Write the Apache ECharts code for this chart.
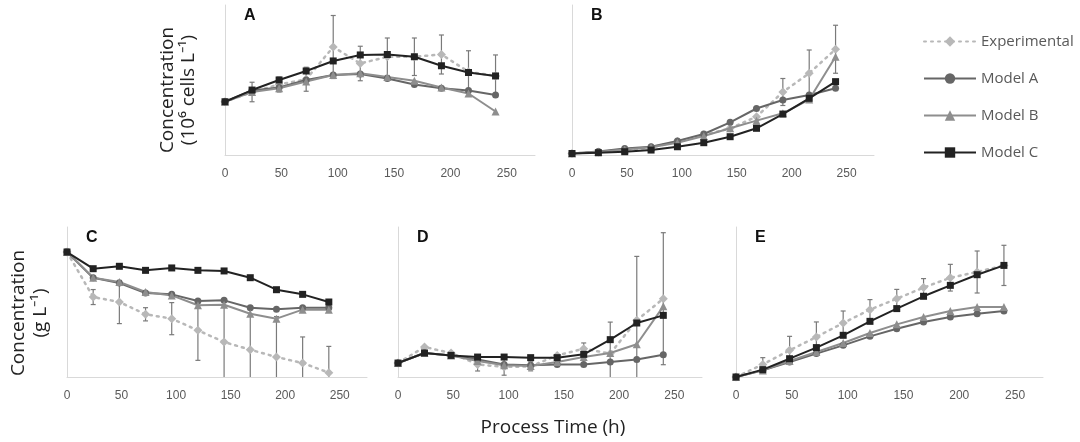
<!DOCTYPE html>
<html>
<head>
<meta charset="utf-8">
<script src="https://cdn.jsdelivr.net/npm/echarts@6/dist/echarts.min.js"></script>
<style>html,body{margin:0;padding:0;background:#fff}#chart{width:1080px;height:442px}</style>
</head>
<body>
<div id="chart"></div>
<script>
// sampling times (h)
var times = [0, 24, 48, 72, 96, 120, 144, 168, 192, 216, 240]
var xTicks = [0, 50, 100, 150, 200, 250]

// panel A (relative units)
var expA = [35.5, 42, 47, 50.5, 72, 61, 65.5, 65.5, 67, 55.5, 52.7]
var errA = [0, 6.5, 5, 8, 21, 11.5, 12.5, 12.5, 13, 14, 14]
var modelA_A = [35.5, 43, 45, 50, 53.3, 54, 51, 47, 44.5, 43, 40]
var modelB_A = [35.5, 42, 44.5, 49, 53.3, 54.5, 52, 49.5, 45, 41, 29]
var modelC_A = [35.5, 43.3, 50, 56, 62.7, 66.7, 67, 65.5, 59.5, 55, 52.7]

// panel B
var expB = [1, 2, 3.3, 5, 9, 13.3, 17.8, 25.5, 42, 54.5, 70.5]
var errB = [0, 0, 0, 0, 0, 0, 0, 0, 9, 15.5, 16]
var modelA_B = [1, 2.3, 4.4, 5.5, 9.3, 14, 21.8, 31, 36.7, 40, 44.5]
var modelB_B = [1, 2, 3.7, 5.2, 8.2, 12.7, 17.8, 22.9, 27.8, 37, 65.5]
var modelC_B = [1, 1.5, 2.2, 3.3, 5.5, 8.2, 12.2, 17.8, 27.3, 37.8, 48.9]

// panel C
var expC = [83.3, 53.3, 50, 41.8, 38.9, 31.1, 23.3, 18.2, 13.3, 9.3, 2.9]
var errC = [2, 5, 14.4, 4.4, 10.7, 20, 27.7, 29, 27, 17.4, 17.5]
var modelA_C = [83.3, 66.2, 62.7, 56, 55.1, 50.7, 51.1, 46.2, 45.1, 46.2, 46.2]
var modelB_C = [83.3, 66.2, 63.3, 56.7, 54.4, 47.8, 48.2, 42.2, 38.9, 44.9, 44.9]
var modelC_C = [83.3, 72.2, 73.8, 71.1, 72.7, 71.1, 70.7, 66.2, 58.2, 55.1, 50]

// panel D
var expD = [9.3, 20, 16, 8.4, 6.7, 7.1, 14.4, 18.9, 15.6, 37.8, 52.2]
var errD = [0, 0, 0, 4.4, 5.5, 3, 0, 3.8, 21, 42.6, 44]
var modelA_D = [9.3, 16, 14.4, 11.6, 8.4, 7.8, 8.4, 8.4, 10, 11.6, 14.9]
var modelB_D = [9.3, 16, 14.4, 10.7, 7.8, 7.3, 10, 13.3, 16, 21.8, 47.1]
var modelC_D = [9.3, 16, 14.4, 13.3, 13.3, 12.9, 12.9, 15.1, 24.9, 36, 41.1]

// panel E
var expE = [0, 8.4, 17.8, 26.7, 36, 44.9, 52.2, 59.6, 66.2, 70, 74.4]
var errE = [0, 4.5, 9.3, 10, 8, 6.7, 6.2, 6, 8.9, 14, 13.4]
var modelA_E = [0, 4.4, 10, 15.6, 21.1, 27.1, 32.2, 36.7, 40, 42.2, 44]
var modelB_E = [0, 4.4, 10.7, 16.7, 22.7, 29.3, 35.1, 40, 44, 46.7, 46.7]
var modelC_E = [0, 4.9, 12.2, 19.6, 27.8, 37.1, 45.6, 53.8, 61.1, 68.2, 74.4]

var panels = [
  { letter: 'A', left: 225, top: 5, width: 310, height: 150, exp: expA, err: errA, a: modelA_A, b: modelB_A, c: modelC_A },
  { letter: 'B', left: 572, top: 5, width: 302, height: 150, exp: expB, err: errB, a: modelA_B, b: modelB_B, c: modelC_B },
  { letter: 'C', left: 67, top: 227, width: 300, height: 150, exp: expC, err: errC, a: modelA_C, b: modelB_C, c: modelC_C },
  { letter: 'D', left: 398, top: 227, width: 304, height: 150, exp: expD, err: errD, a: modelA_D, b: modelB_D, c: modelC_D },
  { letter: 'E', left: 736, top: 227, width: 307, height: 150, exp: expE, err: errE, a: modelA_E, b: modelB_E, c: modelC_E },
]

var colExp = '#b8b8b8', colA = '#666666', colB = '#8e8e8e', colC = '#222222', colErr = '#7a7a7a'

function pairs(arr) {
  return arr.map(function (v, i) { return [times[i], v] })
}

var myChart = echarts.init(document.getElementById('chart'))
var grids = [], xAxes = [], yAxes = [], series = [], graphics = []

panels.forEach(function (p, k) {
  grids.push({ left: p.left, top: p.top, width: p.width, height: p.height })
  xAxes.push({
    gridIndex: k, type: 'value', min: 0, max: 275, interval: 50,
    axisLine: { show: true, lineStyle: { color: '#d9d9d9' } },
    axisTick: { show: false }, splitLine: { show: false },
    axisLabel: {
      color: '#595959', fontSize: 12, fontFamily: 'Liberation Sans', margin: 13,
      formatter: function (v) { return xTicks.indexOf(v) >= 0 ? v : '' },
    },
  })
  yAxes.push({
    gridIndex: k, type: 'value', min: 0, max: 100,
    axisLine: { show: true, lineStyle: { color: '#d9d9d9' } },
    axisTick: { show: false }, axisLabel: { show: false }, splitLine: { show: false },
  })
  // error bars for the experimental data (cut at the x axis)
  series.push({
    type: 'custom', xAxisIndex: k, yAxisIndex: k, silent: true, z: 1,
    data: p.exp.map(function (v, i) { return [times[i], Math.max(0, v - p.err[i]), v + p.err[i]] }),
    renderItem: function (params, api) {
      var lo = api.coord([api.value(0), api.value(1)])
      var hi = api.coord([api.value(0), api.value(2)])
      var st = { stroke: colErr, lineWidth: 1.2 }
      var kids = [
        { type: 'line', shape: { x1: lo[0], y1: lo[1], x2: hi[0], y2: hi[1] }, style: st },
        { type: 'line', shape: { x1: hi[0] - 2.5, y1: hi[1], x2: hi[0] + 2.5, y2: hi[1] }, style: st },
      ]
      if (api.value(1) > 0) {
        kids.push({ type: 'line', shape: { x1: lo[0] - 2.5, y1: lo[1], x2: lo[0] + 2.5, y2: lo[1] }, style: st })
      }
      return { type: 'group', children: kids }
    },
  })
  series.push({
    name: 'Experimental', type: 'line', xAxisIndex: k, yAxisIndex: k, data: pairs(p.exp), z: 2,
    symbol: 'diamond', symbolSize: 9, itemStyle: { color: colExp },
    lineStyle: { color: colExp, width: 2.5, type: [2, 5], cap: 'round' },
  })
  series.push({
    name: 'Model A', type: 'line', xAxisIndex: k, yAxisIndex: k, data: pairs(p.a), z: 3,
    symbol: 'circle', symbolSize: 7, itemStyle: { color: colA }, lineStyle: { color: colA, width: 2 },
  })
  series.push({
    name: 'Model B', type: 'line', xAxisIndex: k, yAxisIndex: k, data: pairs(p.b), z: 3,
    symbol: 'triangle', symbolSize: 8, itemStyle: { color: colB }, lineStyle: { color: colB, width: 2 },
  })
  series.push({
    name: 'Model C', type: 'line', xAxisIndex: k, yAxisIndex: k, data: pairs(p.c), z: 4,
    symbol: 'rect', symbolSize: 7, itemStyle: { color: colC }, lineStyle: { color: colC, width: 2 },
  })
  graphics.push({
    type: 'text', left: p.left + 19, top: p.top + 3,
    style: { text: p.letter, fontSize: 16, fontWeight: 'bold', fill: '#111', fontFamily: 'Liberation Sans' },
  })
})

var titleFont = { fontSize: 19, fill: '#222', fontFamily: 'Open Sans' }
graphics.push(
  { type: 'text', x: 168, y: 90, rotation: Math.PI / 2, style: Object.assign({ text: 'Concentration', align: 'center', verticalAlign: 'middle' }, titleFont) },
  { type: 'text', x: 189, y: 90, rotation: Math.PI / 2, style: Object.assign({ text: '(10\u2076 cells L\u207B\u00B9)', align: 'center', verticalAlign: 'middle' }, titleFont) },
  { type: 'text', x: 19, y: 313, rotation: Math.PI / 2, style: Object.assign({ text: 'Concentration', align: 'center', verticalAlign: 'middle' }, titleFont) },
  { type: 'text', x: 41, y: 313, rotation: Math.PI / 2, style: Object.assign({ text: '(g L\u207B\u00B9)', align: 'center', verticalAlign: 'middle' }, titleFont) },
  { type: 'text', x: 553, y: 428, style: Object.assign({ text: 'Process Time (h)', align: 'center', verticalAlign: 'middle' }, titleFont) }
)

var option = {
  backgroundColor: '#fff',
  animation: false,
  grid: grids,
  xAxis: xAxes,
  yAxis: yAxes,
  series: series,
  graphic: graphics,
  legend: {
    data: ['Experimental', 'Model A', 'Model B', 'Model C'],
    orient: 'vertical', left: 918, top: 29, itemGap: 22, itemWidth: 52, itemHeight: 13,
    textStyle: { color: '#595959', fontSize: 15, fontFamily: 'Open Sans' },
  },
}

myChart.setOption(option)
</script>
</body>
</html>
